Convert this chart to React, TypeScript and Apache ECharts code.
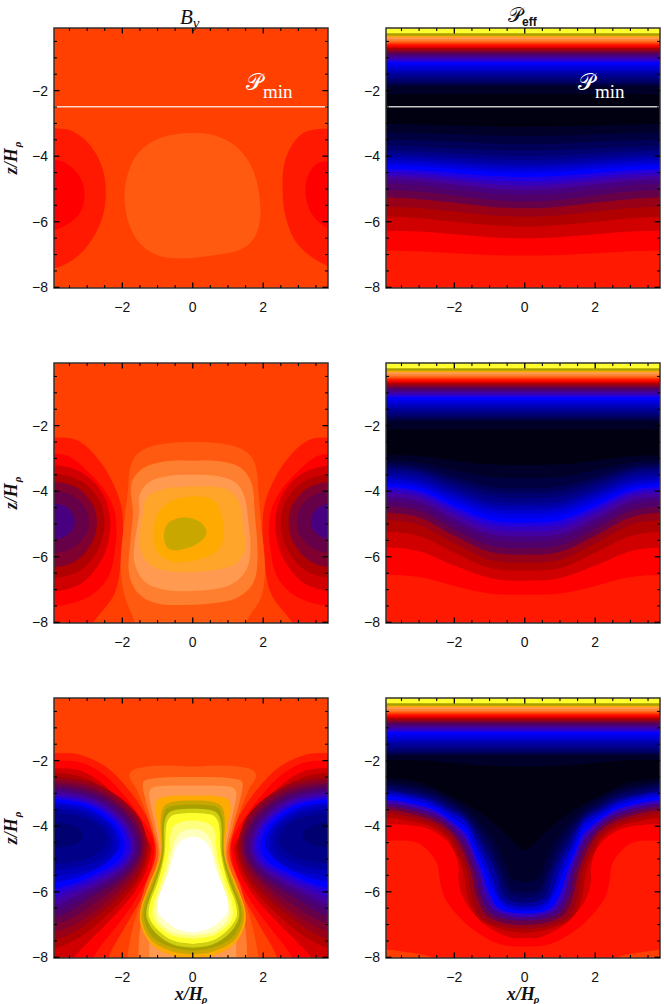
import React, { useEffect, useRef } from "react";
import * as echarts from "echarts";

type Pt = number[];
type Layer = { level: number; points: Pt[]; smooth: boolean };

// Contour fill colours, lowest level to highest
const palette = [
  "#000010", "#000028", "#000040", "#000058", "#000070", "#000088", "#0000a0", "#0000b8", "#0000d0", "#0000e8",
  "#0000ff", "#2000e0", "#3400c0", "#4400a0", "#480080", "#500068", "#660048", "#800030", "#980018", "#b00000",
  "#d00000", "#ff0000", "#ff1900", "#ff4000", "#ff5a10", "#ff7f30", "#ff9a50", "#ffa52a", "#ffaa00", "#c8a800",
  "#a8a000", "#d0d010", "#f0f020", "#ffff30", "#ffff80", "#ffffc0", "#ffffff",
];

const xMajor = [-2, 0, 2];
const xMinor = [-3.5, -3, -2.5, -1.5, -1, -0.5, 0.5, 1, 1.5, 2.5, 3, 3.5];
const zMajor = [-8, -6, -4, -2];
const zMinor = [-7.5, -7, -6.5, -5.5, -5, -4.5, -3.5, -3, -2.5, -1.5, -1, -0.5];
const pMinLevel = -2.49;

// ---- Panel 1: B_y, top row
const a_blob: Pt[] = [[-1.93,-5.43],[-1.84,-4.52],[-1.51,-3.86],[-0.94,-3.45],[-0.18,-3.30],[0.58,-3.35],[1.24,-3.71],[1.71,-4.42],[1.92,-5.54],[1.81,-6.35],[1.43,-6.81],[0.67,-7.01],[-0.56,-7.11],[-1.22,-6.91],[-1.70,-6.35]];
const a_left22: Pt[] = [[-3.95,-3.15],[-3.40,-3.25],[-2.88,-3.71],[-2.55,-4.42],[-2.47,-5.23],[-2.59,-5.94],[-2.93,-6.65],[-3.40,-7.16],[-3.95,-7.42]];
const a_left21: Pt[] = [[-3.95,-4.11],[-3.59,-4.22],[-3.21,-4.62],[-3.07,-5.18],[-3.21,-5.74],[-3.59,-6.10],[-3.95,-6.25]];
const a_right22: Pt[] = [[3.9,-3.15],[3.13,-3.30],[2.66,-4.01],[2.55,-4.93],[2.66,-5.94],[3.04,-6.76],[3.9,-7.37]];
const a_right21: Pt[] = [[3.9,-4.16],[3.47,-4.27],[3.21,-4.83],[3.28,-5.54],[3.56,-5.99],[3.9,-6.20]];

// ---- Panel 3: B_y, middle row (left lobes, the right ones are their reflection)
const b_lobes: [number, Pt[]][] = [
  [22, [[-3.95,-2.36],[-3.30,-2.44],[-2.74,-2.95],[-2.26,-3.76],[-2.0,-4.67],[-2.03,-5.99],[-2.22,-7.11],[-2.83,-8.01],[-3.12,-8.53]]],
  [21, [[-3.95,-2.86],[-3.49,-2.95],[-2.93,-3.45],[-2.45,-4.06],[-2.19,-4.77],[-2.22,-5.89],[-2.45,-6.71],[-3.02,-7.26],[-3.95,-7.52]]],
  [20, [[-3.95,-3.20],[-3.30,-3.35],[-2.90,-3.63],[-2.58,-4.04],[-2.42,-4.42],[-2.34,-4.98],[-2.42,-5.63],[-2.58,-6.07],[-2.90,-6.56],[-3.30,-6.89],[-3.95,-7.06]]],
  [19, [[-3.95,-3.47],[-3.37,-3.60],[-3.0,-3.82],[-2.72,-4.16],[-2.58,-4.47],[-2.50,-4.93],[-2.58,-5.47],[-2.72,-5.84],[-3.0,-6.24],[-3.37,-6.51],[-3.95,-6.65]]],
  [17, [[-3.95,-3.71],[-3.46,-3.81],[-3.14,-4.0],[-2.91,-4.29],[-2.78,-4.54],[-2.72,-4.93],[-2.78,-5.36],[-2.91,-5.66],[-3.14,-5.98],[-3.46,-6.21],[-3.95,-6.32]]],
  [16, [[-3.95,-3.98],[-3.55,-4.06],[-3.30,-4.21],[-3.10,-4.43],[-2.99,-4.64],[-2.95,-4.93],[-2.99,-5.23],[-3.10,-5.43],[-3.30,-5.66],[-3.55,-5.81],[-3.95,-5.89]]],
  [14, [[-3.95,-4.37],[-3.71,-4.42],[-3.56,-4.50],[-3.44,-4.64],[-3.38,-4.76],[-3.35,-4.93],[-3.38,-5.10],[-3.44,-5.21],[-3.56,-5.33],[-3.71,-5.42],[-3.95,-5.47]]],
];
const b_centre: [number, Pt[]][] = [
  [24, [[-1.65,-8.53],[-1.65,-8.01],[-1.93,-7.21],[-2.05,-6.30],[-1.96,-5.08],[-1.84,-3.96],[-1.77,-3.25],[-1.55,-2.84],[-1.03,-2.59],[0.01,-2.49],[1.05,-2.59],[1.57,-2.84],[1.79,-3.25],[1.86,-3.96],[1.95,-5.08],[2.05,-6.30],[1.95,-7.21],[1.52,-8.01],[1.52,-8.53]]],
  [25, [[-1.70,-4.67],[-1.74,-3.76],[-1.41,-3.30],[-0.84,-3.10],[0.01,-3.07],[0.86,-3.10],[1.38,-3.30],[1.67,-3.76],[1.76,-4.67],[1.84,-5.99],[1.71,-6.81],[1.24,-7.26],[0.58,-7.42],[-0.18,-7.47],[-1.03,-7.42],[-1.55,-7.11],[-1.81,-6.50],[-1.77,-5.49]]],
  [26, [[-1.52,-4.67],[-1.51,-4.11],[-1.22,-3.71],[-0.65,-3.53],[0.01,-3.50],[0.77,-3.55],[1.24,-3.76],[1.48,-4.22],[1.57,-4.88],[1.64,-5.69],[1.52,-6.40],[1.05,-6.86],[0.20,-7.03],[-0.75,-7.01],[-1.36,-6.76],[-1.65,-6.20],[-1.65,-5.59]]],
  [27, [[-1.41,-4.67],[-1.32,-4.22],[-0.94,-3.96],[0.01,-3.86],[0.86,-3.91],[1.29,-4.27],[1.43,-5.08],[1.48,-5.79],[1.15,-6.25],[0.20,-6.45],[-0.75,-6.43],[-1.27,-6.20],[-1.51,-5.69],[-1.49,-5.18]]],
  [28, [[-1.11,-5.38],[-1.03,-4.77],[-0.65,-4.32],[0.01,-4.16],[0.58,-4.27],[0.81,-4.72],[0.88,-5.38],[0.67,-5.84],[0.10,-6.10],[-0.56,-6.15],[-0.94,-5.94],[-1.08,-5.69]]],
  [29, [[-0.82,-5.38],[-0.70,-4.98],[-0.27,-4.80],[0.20,-4.93],[0.39,-5.26],[0.15,-5.59],[-0.37,-5.79],[-0.70,-5.74]]],
];

// ---- Panel 5: B_y, bottom row (left lobes)
const c_lobes: [number, Pt[]][] = [
  [22, [[-3.95,-1.77],[-3.21,-1.82],[-2.45,-2.20],[-1.88,-2.81],[-1.41,-3.52],[-1.08,-4.24],[-1.01,-4.74],[-1.17,-5.66],[-1.60,-6.47],[-1.98,-7.18],[-2.26,-7.69],[-2.40,-8.02],[-2.64,-8.71]]],
  [21, [[-3.95,-2.0],[-3.21,-2.05],[-2.55,-2.41],[-1.98,-3.02],[-1.51,-3.68],[-1.17,-4.29],[-1.09,-4.69],[-1.24,-5.46],[-1.70,-6.37],[-2.26,-7.18],[-2.64,-7.69],[-2.83,-8.02],[-3.02,-8.50]]],
  [20, [[-3.95,-2.23],[-3.21,-2.30],[-2.55,-2.71],[-2.03,-3.32],[-1.60,-3.88],[-1.27,-4.39],[-1.17,-4.69],[-1.36,-5.46],[-1.84,-6.27],[-2.45,-6.98],[-3.02,-7.59],[-3.38,-8.02],[-3.59,-8.50]]],
  [19, [[-3.95,-2.36],[-3.12,-2.51],[-2.45,-2.91],[-1.93,-3.47],[-1.55,-3.98],[-1.32,-4.39],[-1.24,-4.69],[-1.46,-5.46],[-1.93,-6.17],[-2.55,-6.83],[-3.21,-7.39],[-3.95,-7.74]]],
  [18, [[-3.95,-2.49],[-2.89,-2.66],[-2.23,-3.0],[-1.70,-3.48],[-1.43,-3.93],[-1.30,-4.59],[-1.51,-5.40],[-1.98,-6.04],[-2.64,-6.67],[-3.30,-7.18],[-3.95,-7.47]]],
  [17, [[-3.95,-2.59],[-2.92,-2.76],[-2.27,-3.08],[-1.75,-3.55],[-1.50,-3.99],[-1.36,-4.62],[-1.58,-5.33],[-2.05,-5.91],[-2.69,-6.52],[-3.35,-6.98],[-3.95,-7.23]]],
  [16, [[-3.95,-2.69],[-2.95,-2.85],[-2.31,-3.16],[-1.81,-3.62],[-1.55,-4.03],[-1.43,-4.64],[-1.65,-5.27],[-2.12,-5.81],[-2.78,-6.35],[-3.40,-6.78],[-3.95,-7.0]]],
  [15, [[-3.95,-2.79],[-2.97,-2.95],[-2.36,-3.24],[-1.87,-3.68],[-1.63,-4.08],[-1.49,-4.66],[-1.71,-5.23],[-2.19,-5.71],[-2.88,-6.17],[-3.45,-6.57],[-3.95,-6.78]]],
  [14, [[-3.95,-2.87],[-3.0,-3.03],[-2.41,-3.31],[-1.94,-3.74],[-1.70,-4.12],[-1.58,-4.69],[-1.79,-5.20],[-2.26,-5.64],[-2.91,-6.04],[-3.48,-6.39],[-3.95,-6.59]]],
  [13, [[-3.95,-2.95],[-3.03,-3.10],[-2.46,-3.37],[-2.0,-3.78],[-1.77,-4.15],[-1.66,-4.69],[-1.87,-5.17],[-2.34,-5.58],[-2.97,-5.94],[-3.49,-6.22],[-3.95,-6.42]]],
  [12, [[-3.95,-3.03],[-3.06,-3.17],[-2.50,-3.42],[-2.06,-3.82],[-1.84,-4.17],[-1.72,-4.69],[-1.93,-5.15],[-2.41,-5.50],[-3.02,-5.84],[-3.54,-6.06],[-3.95,-6.25]]],
  [11, [[-3.95,-3.10],[-3.09,-3.23],[-2.55,-3.48],[-2.11,-3.85],[-1.89,-4.19],[-1.79,-4.69],[-2.00,-5.11],[-2.45,-5.43],[-3.07,-5.74],[-3.59,-5.94],[-3.95,-6.09]]],
  [10, [[-3.95,-3.17],[-3.14,-3.29],[-2.64,-3.52],[-2.23,-3.87],[-2.04,-4.18],[-1.93,-4.64],[-2.12,-5.07],[-2.59,-5.37],[-3.12,-5.64],[-3.59,-5.82],[-3.95,-5.91]]],
  [8, [[-3.95,-3.27],[-3.19,-3.38],[-2.72,-3.59],[-2.34,-3.89],[-2.15,-4.17],[-2.05,-4.59],[-2.30,-4.98],[-2.69,-5.30],[-3.16,-5.51],[-3.64,-5.66],[-3.95,-5.71]]],
  [7, [[-3.95,-3.37],[-3.24,-3.47],[-2.79,-3.66],[-2.43,-3.92],[-2.25,-4.17],[-2.17,-4.54],[-2.25,-4.85],[-2.43,-5.05],[-2.79,-5.27],[-3.24,-5.42],[-3.95,-5.51]]],
  [6, [[-3.95,-3.47],[-3.29,-3.55],[-2.87,-3.72],[-2.53,-3.95],[-2.37,-4.17],[-2.28,-4.49],[-2.37,-4.75],[-2.53,-4.94],[-2.87,-5.13],[-3.29,-5.26],[-3.95,-5.33]]],
  [5, [[-3.95,-3.60],[-3.35,-3.67],[-2.97,-3.79],[-2.68,-3.98],[-2.53,-4.16],[-2.45,-4.42],[-2.53,-4.64],[-2.68,-4.80],[-2.97,-4.98],[-3.35,-5.09],[-3.95,-5.15]]],
  [4, [[-3.95,-3.88],[-3.62,-3.91],[-3.41,-3.98],[-3.24,-4.07],[-3.15,-4.15],[-3.12,-4.29],[-3.15,-4.41],[-3.24,-4.48],[-3.41,-4.57],[-3.62,-4.63],[-3.95,-4.66]]],
];
// left halves of the central contours, bottom to top; the right half is the reflection
const c_centre: [number, Pt[]][] = [
  [24, [[-1.96,-8.71],[-1.87,-8.02],[-1.70,-7.08],[-1.36,-5.86],[-1.05,-4.85],[-1.22,-3.93],[-1.58,-2.91],[-1.80,-2.46],[-1.62,-2.25],[-0.84,-2.15],[0,-2.18]]],
  [25, [[-1.58,-8.71],[-1.55,-8.02],[-1.49,-7.08],[-1.22,-5.86],[-0.98,-4.85],[-1.13,-4.03],[-1.36,-3.12],[-1.41,-2.66],[-1.22,-2.56],[-0.5,-2.50],[0,-2.50]]],
  [26, [[-1.27,-8.71],[-1.24,-8.02],[-1.22,-7.08],[-1.08,-5.86],[-0.94,-4.85],[-1.05,-4.03],[-1.22,-3.22],[-1.22,-2.91],[-1.03,-2.79],[0,-2.76]]],
  [28, [[0,-8.05],[-0.56,-7.95],[-1.13,-7.64],[-1.46,-7.08],[-1.49,-6.57],[-1.27,-5.86],[-0.92,-4.85],[-0.98,-4.03],[-1.08,-3.42],[-0.94,-3.14],[0,-3.07]]],
  [29, [[0,-7.91],[-0.56,-7.83],[-1.17,-7.49],[-1.44,-6.93],[-1.43,-6.47],[-1.20,-5.81],[-0.90,-4.87],[-0.91,-3.83],[-0.82,-3.40],[-0.51,-3.25],[0,-3.22]]],
  [30, [[0,-7.81],[-0.56,-7.71],[-1.13,-7.39],[-1.38,-6.88],[-1.36,-6.42],[-1.13,-5.76],[-0.89,-4.90],[-0.86,-3.83],[-0.75,-3.47],[-0.51,-3.37],[0,-3.34]]],
  [31, [[0,-7.71],[-0.56,-7.61],[-1.03,-7.28],[-1.30,-6.83],[-1.29,-6.42],[-1.05,-5.71],[-0.84,-4.90],[-0.81,-3.93],[-0.70,-3.61],[-0.46,-3.50],[0,-3.47]]],
  [33, [[0,-7.59],[-0.56,-7.49],[-0.98,-7.18],[-1.24,-6.78],[-1.22,-6.37],[-0.98,-5.66],[-0.80,-4.85],[-0.75,-3.98],[-0.63,-3.71],[-0.42,-3.63],[0,-3.60]]],
  [34, [[0,-7.44],[-0.56,-7.34],[-0.94,-7.08],[-1.13,-6.78],[-1.11,-6.37],[-0.89,-5.66],[-0.70,-4.90],[-0.61,-4.13],[-0.46,-3.93],[0,-3.83]]],
  [35, [[0,-7.34],[-0.56,-7.24],[-0.89,-7.0],[-1.03,-6.73],[-1.01,-6.37],[-0.80,-5.66],[-0.63,-4.95],[-0.51,-4.44],[-0.32,-4.18],[0,-4.08]]],
  [36, [[0,-7.25],[-0.46,-7.13],[-0.89,-6.78],[-1.01,-6.42],[-0.89,-5.91],[-0.67,-5.35],[-0.51,-4.74],[-0.32,-4.44],[0,-4.32]]],
];

// ---- P_eff: the flat bands near the top of all three panels [level, z]
const topBands: Pt[] = [[30,-0.25],[28,-0.33],[26,-0.37],[25,-0.43],[24,-0.50],[23,-0.54],[22,-0.58],[21,-0.62],[20,-0.66],[19,-0.70],[18,-0.74],[17,-0.78],[16,-0.82],[15,-0.87],[14,-0.92],[13,-0.97],[12,-1.02],[11,-1.08],[10,-1.13],[9,-1.21],[8,-1.29],[7,-1.37],[6,-1.45],[5,-1.53],[4,-1.63],[3,-1.72],[2,-1.79]];
const deepBandsRow12: Pt[] = [[1,-1.86],[0,-2.10]];
const profileX = [-3.95, -3, -2, -1, 0];

// level, then z at each profileX
const d_curves: number[][] = [
  [1,-3.02,-3.03,-3.06,-3.09,-3.10],[2,-3.28,-3.30,-3.33,-3.37,-3.38],[3,-3.50,-3.52,-3.56,-3.61,-3.63],[4,-3.69,-3.71,-3.76,-3.81,-3.83],
  [5,-3.83,-3.85,-3.91,-3.97,-3.99],[6,-3.94,-3.97,-4.03,-4.09,-4.12],[7,-4.04,-4.07,-4.14,-4.21,-4.24],[8,-4.13,-4.16,-4.23,-4.31,-4.34],
  [9,-4.22,-4.25,-4.32,-4.40,-4.43],[10,-4.29,-4.32,-4.40,-4.49,-4.52],[11,-4.39,-4.43,-4.51,-4.60,-4.64],[12,-4.49,-4.53,-4.63,-4.73,-4.77],
  [13,-4.59,-4.64,-4.74,-4.85,-4.90],[14,-4.70,-4.75,-4.86,-4.98,-5.03],[15,-4.84,-4.89,-5.01,-5.13,-5.18],[16,-5.03,-5.08,-5.20,-5.33,-5.38],
  [18,-5.26,-5.31,-5.42,-5.54,-5.59],[19,-5.54,-5.58,-5.69,-5.80,-5.84],[20,-5.84,-5.89,-6.0,-6.10,-6.15],[21,-6.27,-6.30,-6.38,-6.47,-6.50],
  [22,-6.88,-6.90,-6.96,-7.01,-7.03],
];
const e_curves: number[][] = [
  [1,-2.89,-2.93,-3.07,-3.18,-3.20],[2,-3.07,-3.13,-3.36,-3.56,-3.60],[3,-3.17,-3.26,-3.57,-3.86,-3.91],[4,-3.25,-3.35,-3.70,-4.00,-4.06],
  [5,-3.33,-3.43,-3.82,-4.15,-4.22],[6,-3.43,-3.54,-3.95,-4.31,-4.37],[7,-3.53,-3.65,-4.05,-4.41,-4.47],[8,-3.63,-3.74,-4.15,-4.52,-4.59],
  [9,-3.71,-3.83,-4.25,-4.62,-4.69],[10,-3.78,-3.90,-4.36,-4.75,-4.82],[11,-3.86,-3.99,-4.46,-4.88,-4.96],[12,-3.94,-4.07,-4.57,-5.0,-5.08],
  [13,-4.04,-4.18,-4.69,-5.15,-5.23],[14,-4.16,-4.31,-4.83,-5.30,-5.38],[15,-4.29,-4.44,-4.98,-5.44,-5.54],[16,-4.45,-4.60,-5.16,-5.65,-5.74],
  [18,-4.65,-4.80,-5.36,-5.85,-5.94],[19,-4.87,-5.03,-5.59,-6.09,-6.18],[20,-5.23,-5.37,-5.88,-6.34,-6.42],[21,-5.71,-5.83,-6.27,-6.65,-6.73],
  [22,-6.55,-6.62,-6.89,-7.12,-7.16],
];
// Bottom row: left halves of the curves
const f_curves: [number, Pt[]][] = [
  [0, [[-3.95,-1.97],[-3,-1.99],[-2,-2.07],[-1,-2.16],[0,-2.18]]],
  [1, [[-3.95,-2.53],[-2.99,-2.66],[-2.42,-2.91],[-1.86,-3.22],[-1.29,-3.57],[-0.81,-3.98],[-0.44,-4.34],[-0.25,-4.54],[0,-4.74]]],
  [2, [[-3.96,-2.65],[-3.56,-2.69],[-2.61,-2.91],[-2.14,-3.17],[-1.67,-3.47],[-1.0,-4.24],[-0.67,-4.85],[-0.45,-5.46],[-0.29,-5.66],[0,-5.71]]],
  [3, [[-3.96,-2.74],[-3.56,-2.78],[-2.61,-3.02],[-2.14,-3.29],[-1.67,-3.61],[-1.08,-4.39],[-0.77,-5.05],[-0.61,-5.46],[-0.39,-5.94],[0,-6.01]]],
  [4, [[-3.96,-2.83],[-3.56,-2.87],[-2.61,-3.10],[-2.14,-3.37],[-1.67,-3.68],[-1.15,-4.49],[-0.86,-5.05],[-0.69,-5.46],[-0.45,-6.04],[0,-6.19]]],
  [6, [[-3.96,-2.92],[-3.56,-2.96],[-2.61,-3.20],[-2.14,-3.47],[-1.67,-3.78],[-1.24,-4.54],[-0.98,-5.05],[-0.81,-5.46],[-0.55,-6.17],[0,-6.34]]],
  [8, [[-3.96,-2.98],[-3.56,-3.02],[-2.61,-3.29],[-2.14,-3.57],[-1.67,-3.88],[-1.34,-4.59],[-1.12,-5.05],[-0.96,-5.46],[-0.63,-6.27],[0,-6.47]]],
  [10, [[-3.96,-3.08],[-3.56,-3.12],[-2.61,-3.39],[-2.14,-3.69],[-1.67,-4.05],[-1.43,-4.59],[-1.24,-5.05],[-1.08,-5.46],[-0.86,-6.01],[-0.55,-6.47],[0,-6.57]]],
  [12, [[-3.96,-3.20],[-3.56,-3.24],[-2.61,-3.49],[-2.14,-3.80],[-1.67,-4.24],[-1.52,-4.59],[-1.34,-5.05],[-1.19,-5.46],[-1.0,-6.07],[-0.72,-6.52],[0,-6.67]]],
  [14, [[-3.96,-3.30],[-3.56,-3.34],[-2.61,-3.60],[-2.14,-3.91],[-1.67,-4.44],[-1.43,-5.05],[-1.29,-5.46],[-1.12,-6.12],[-0.81,-6.59],[0,-6.78]]],
  [16, [[-3.96,-3.40],[-3.56,-3.44],[-2.61,-3.71],[-2.14,-4.03],[-1.67,-4.69],[-1.50,-5.20],[-1.40,-5.46],[-1.24,-6.17],[-0.91,-6.69],[0,-6.88]]],
  [18, [[-3.96,-3.50],[-3.56,-3.54],[-2.61,-3.83],[-2.14,-4.15],[-1.86,-4.54],[-1.62,-5.10],[-1.51,-5.46],[-1.36,-6.17],[-1.02,-6.78],[0,-7.01]]],
  [19, [[-3.96,-3.60],[-3.56,-3.65],[-2.61,-3.93],[-2.14,-4.29],[-1.95,-4.59],[-1.71,-5.15],[-1.62,-5.46],[-1.50,-6.17],[-1.19,-6.83],[0,-7.13]]],
  [20, [[-3.96,-3.74],[-3.56,-3.78],[-2.61,-4.03],[-2.14,-4.42],[-2.05,-4.64],[-1.81,-5.15],[-1.71,-5.56],[-1.62,-6.17],[-1.36,-6.78],[-0.81,-7.10],[0,-7.25]]],
  [21, [[-3.96,-3.93],[-3.56,-3.95],[-2.99,-4.01],[-2.61,-4.15],[-2.23,-4.44],[-2.0,-4.79],[-1.88,-5.25],[-1.88,-5.66],[-1.76,-6.17],[-1.52,-6.57],[-1.10,-7.03],[-0.44,-7.39],[0,-7.42]]],
  [22, [[-3.96,-4.44],[-3.09,-4.49],[-2.71,-4.79],[-2.47,-5.20],[-2.41,-5.66],[-2.28,-6.17],[-1.95,-6.67],[-1.43,-7.18],[-0.72,-7.59],[0,-7.67]]],
];
const f_corner: Pt[] = [[-3.96,-7.77],[-3.37,-7.84],[-2.61,-8.02],[-2.3,-8.4]];

const OUT = 4.7;
const FONT_SERIF = "'Liberation Serif', serif";
const FONT_SANS = "'Liberation Sans', sans-serif";
const FONT_SCRIPT = "'DejaVu Sans', 'DejaVu Serif', serif";

const mirrorPts = (p: Pt[]): Pt[] => p.map(([x, z]) => [-x, z]);
const fill = (level: number): Layer => ({ level, smooth: false, points: [[-7, 2], [7, 2], [7, -11], [-7, -11]] });
const blob = (level: number, points: Pt[]): Layer => ({ level, points, smooth: true });
const lobe = (level: number, p: Pt[]): Layer => {
  const side = p[0][0] < 0 ? -OUT : OUT;
  return { level, smooth: true, points: [[side, p[0][1]], ...p, [side, p[p.length - 1][1]]] };
};
const halfBlob = (level: number, p: Pt[]): Layer => ({ level, smooth: true, points: [...p, ...mirrorPts(p).reverse().slice(1)] });
const flatBelow = (level: number, z: number): Layer => ({ level, smooth: false, points: [[-7, z], [7, z], [7, -11], [-7, -11]] });
const curveBelow = (level: number, p: Pt[]): Layer => {
  const z0 = p[0][1];
  const right = mirrorPts(p).reverse().slice(1);
  return { level, smooth: true, points: [[-OUT, z0], ...p, ...right, [OUT, z0], [OUT, -10], [-OUT, -10]] };
};
const rowCurve = (r: number[]): Layer => curveBelow(r[0], profileX.map((x, i) => [x, r[i + 1]]));
const strip = (): Layer[] => [fill(33), ...topBands.map(([l, z]) => flatBelow(l, z))];

const panels: Layer[][] = [
  [fill(23), blob(24, a_blob), lobe(22, a_left22), lobe(21, a_left21), lobe(22, a_right22), lobe(21, a_right21)],
  [...strip(), ...deepBandsRow12.map(([l, z]) => flatBelow(l, z)), ...d_curves.map(rowCurve)],
  [fill(23), ...b_lobes.flatMap(([l, p]) => [lobe(l, p), lobe(l, mirrorPts(p))]), ...b_centre.map(([l, p]) => blob(l, p))],
  [...strip(), ...deepBandsRow12.map(([l, z]) => flatBelow(l, z)), ...e_curves.map(rowCurve)],
  [fill(23), ...c_lobes.flatMap(([l, p]) => [lobe(l, p), lobe(l, mirrorPts(p))]), ...c_centre.map(([l, p]) => halfBlob(l, p))],
  [...strip(), flatBelow(1, -1.82), ...f_curves.map(([l, p]) => curveBelow(l, p)), lobe(23, f_corner), lobe(23, mirrorPts(f_corner))],
];

const X_MIN = -3.94, X_MAX = 3.84, Z_MIN = -8.02, Z_MAX = -0.09;
const lefts = [54, 386];
const tops = [28, 363, 698];
const W = 274, H = 260;
const AXIS = "#333333";
const subRich = {
  a: { fontFamily: FONT_SERIF, fontStyle: "italic", fontWeight: "bold", fontSize: 18, lineHeight: 18, verticalAlign: "top", color: "#111", width: 27, align: "left" },
  s: { fontFamily: FONT_SERIF, fontStyle: "italic", fontWeight: "bold", fontSize: 11, lineHeight: 20, verticalAlign: "bottom", color: "#111" },
};
const fmt = (v: number) => String(v).replace("-", "\u2212");

// One tick mark per item: axis ("x"/"z"), value, side (0 bottom/left, 1 top/right), length
type Tick = { dim: string; v: number; side: number; len: number; w: number };
const TICK_MAJOR = 5.5, TICK_MINOR = 3;
const makeTicks = (): Tick[] => {
  const out: Tick[] = [];
  [0, 1].forEach((side) => {
    xMajor.forEach((v) => out.push({ dim: "x", v, side, len: TICK_MAJOR, w: 1.3 }));
    xMinor.forEach((v) => out.push({ dim: "x", v, side, len: TICK_MINOR, w: 1.1 }));
    zMajor.forEach((v) => out.push({ dim: "z", v, side, len: TICK_MAJOR, w: 1.3 }));
    zMinor.forEach((v) => out.push({ dim: "z", v, side, len: TICK_MINOR, w: 1.1 }));
  });
  return out;
};
const ticks = makeTicks();

function buildOption() {
  const grid: any[] = [], xAxis: any[] = [], yAxis: any[] = [], series: any[] = [];
  panels.forEach((layers, i) => {
    const col = i % 2, row = (i - col) / 2;
    grid.push({ left: lefts[col], top: tops[row], width: W, height: H, containLabel: false, outerBoundsMode: "none" });
    const base = { type: "value", gridIndex: i, z: 10, splitLine: { show: false }, axisLine: { show: false, onZero: false }, axisTick: { show: false } };
    const label = (values: number[], margin: number) => ({ show: true, customValues: values, formatter: fmt, fontFamily: FONT_SANS, fontSize: 14, color: "#111", margin, hideOverlap: false });
    const xName = row === 2 ? { name: "{a|x/H}{s|\u03c1}", nameLocation: "middle", nameGap: 23, nameTextStyle: { rich: subRich } } : {};
    const zName = col === 0 ? { name: "{a|z/H}{s|\u03c1}", nameLocation: "middle", nameGap: 32, nameRotate: 90, nameTextStyle: { rich: subRich } } : {};
    xAxis.push({ ...base, min: X_MIN, max: X_MAX, position: "bottom", axisLabel: label(xMajor, 12), ...xName });
    yAxis.push({ ...base, min: Z_MIN, max: Z_MAX, position: "left", axisLabel: label(zMajor, 6), ...zName });
    series.push({
      type: "custom",
      coordinateSystem: "cartesian2d",
      xAxisIndex: i,
      yAxisIndex: i,
      clip: true,
      silent: true,
      z: 2,
      data: layers.map((_, k) => [0, -1, k]),
      encode: { x: 0, y: 1 },
      renderItem: (params: any, api: any) => {
        const layer = layers[params.dataIndex];
        return {
          type: "polygon",
          shape: { points: layer.points.map((p) => api.coord(p)), smooth: layer.smooth ? 0.35 : 0 },
          style: { fill: palette[layer.level], stroke: "none" },
        };
      },
    });
    if (row === 0) {
      series.push({
        type: "line",
        xAxisIndex: i,
        yAxisIndex: i,
        silent: true,
        z: 5,
        symbol: "none",
        data: [[X_MIN, pMinLevel], [X_MAX, pMinLevel]],
        lineStyle: { color: "#ffffff", opacity: 0.78, width: 1.6 },
      });
    }
    // Frame and inward ticks on all four sides
    series.push({
      type: "custom",
      coordinateSystem: "cartesian2d",
      xAxisIndex: i,
      yAxisIndex: i,
      clip: false,
      silent: true,
      z: 8,
      data: [[0, -1, -1], ...ticks.map((_, k) => [0, -1, k])],
      encode: { x: 0, y: 1 },
      renderItem: (params: any, api: any) => {
        if (params.dataIndex === 0) {
          const a = api.coord([X_MIN, Z_MAX]);
          const b = api.coord([X_MAX, Z_MIN]);
          return {
            type: "rect",
            shape: { x: a[0], y: a[1], width: b[0] - a[0], height: b[1] - a[1] },
            style: { fill: "none", stroke: AXIS, lineWidth: 1.5 },
          };
        }
        const t = ticks[params.dataIndex - 1];
        const isX = t.dim === "x";
        const p = isX ? api.coord([t.v, t.side ? Z_MAX : Z_MIN]) : api.coord([t.side ? X_MAX : X_MIN, t.v]);
        const dir = t.side ? 1 : -1;
        return {
          type: "line",
          shape: isX
            ? { x1: p[0], y1: p[1], x2: p[0], y2: p[1] + dir * t.len }
            : { x1: p[0], y1: p[1], x2: p[0] - dir * t.len, y2: p[1] },
          style: { stroke: "#000", lineWidth: t.w },
        };
      },
    });
  });
  const pRich = {
    p: { fontFamily: FONT_SCRIPT, fontSize: 23, lineHeight: 24, verticalAlign: "top", fill: "#ffffff" },
    m: { fontFamily: FONT_SERIF, fontSize: 19, lineHeight: 31, verticalAlign: "bottom", fill: "#ffffff" },
  };
  return {
    animation: false,
    backgroundColor: "#ffffff",
    grid, xAxis, yAxis, series,
    title: [
      {
        text: "{a|B}{s|y}", left: 175, top: 1,
        textStyle: { fontWeight: "normal", rich: {
          a: { fontFamily: FONT_SERIF, fontStyle: "italic", fontWeight: "normal", fontSize: 21, lineHeight: 18, verticalAlign: "top", color: "#111" },
          s: { fontFamily: FONT_SERIF, fontStyle: "italic", fontWeight: "normal", fontSize: 15, lineHeight: 24, verticalAlign: "bottom", color: "#111" },
        } },
      },
      {
        text: "{p|\ud835\udcab}{s|eff}", left: 503, top: 0,
        textStyle: { fontWeight: "normal", rich: {
          p: { fontFamily: FONT_SCRIPT, fontWeight: "normal", fontSize: 20, lineHeight: 18, verticalAlign: "top", color: "#111" },
          s: { fontFamily: FONT_SANS, fontWeight: "bold", fontSize: 12, lineHeight: 23, verticalAlign: "bottom", color: "#111" },
        } },
      },
    ],
    graphic: [
      { type: "text", x: 246, y: 70, z: 20, style: { text: "{p|\ud835\udcab}{m|min}", fill: "#ffffff", rich: pRich } },
      { type: "text", x: 578, y: 70, z: 20, style: { text: "{p|\ud835\udcab}{m|min}", fill: "#ffffff", rich: pRich } },
    ],
  };
}

export default function App() {
  const ref = useRef<HTMLDivElement>(null);
  useEffect(() => {
    document.body.style.margin = "0";
    const chart = echarts.init(ref.current as HTMLDivElement, undefined, { renderer: "svg" });
    chart.setOption(buildOption() as any);
    return () => chart.dispose();
  }, []);
  return <div ref={ref} style={{ width: 664, height: 1004 }} />;
}
